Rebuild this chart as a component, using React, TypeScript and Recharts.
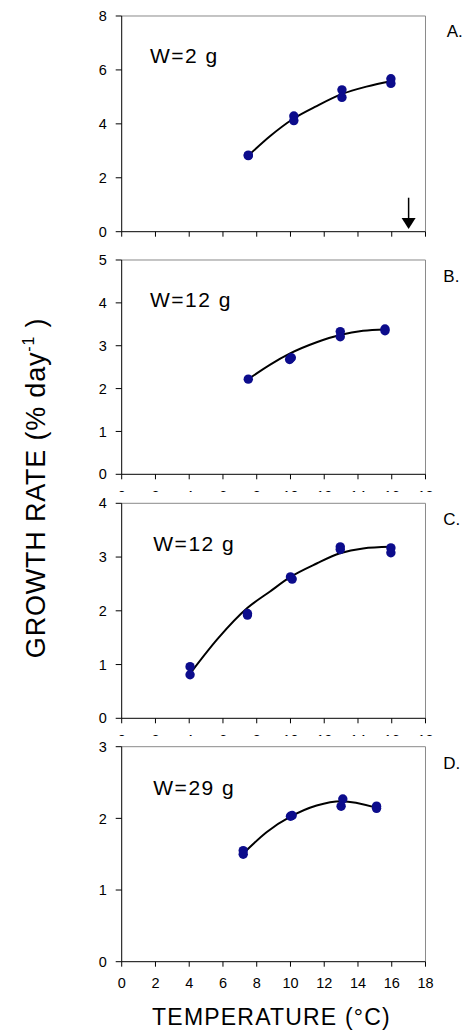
import React from 'react';
import { ComposedChart, Scatter, Line, XAxis, YAxis, ReferenceLine, ReferenceDot } from 'recharts';

const FONT = "'Liberation Sans', Arial, Helvetica, sans-serif";
const DOT_COLOR = '#0c0c8c';
const FRAME_COLOR = '#8a8a8a';

const xTicks = [0, 2, 4, 6, 8, 10, 12, 14, 16, 18];

// Panel A (W=2 g)
const yTicksA = [0, 2, 4, 6, 8];
const obsTempA = [7.5, 7.5, 10.2, 10.2, 13.05, 13.05, 15.95, 15.95];
const obsRateA = [2.82, 2.84, 4.29, 4.12, 5.26, 4.98, 5.67, 5.5];
const fitTempA = [7.55, 8.8, 10.17, 11.55, 13.03, 14.5, 16.05];
const fitRateA = [2.85, 3.55, 4.19, 4.66, 5.1, 5.38, 5.59];

// Panel B (W=12 g)
const yTicksB = [0, 1, 2, 3, 4, 5];
const obsTempB = [7.5, 9.95, 10.05, 12.95, 12.95, 15.6, 15.6];
const obsRateB = [2.22, 2.68, 2.72, 3.33, 3.21, 3.39, 3.35];
const fitTempB = [7.5, 8.8, 9.98, 11.55, 12.93, 14.3, 15.6];
const fitRateB = [2.22, 2.56, 2.82, 3.08, 3.25, 3.35, 3.38];

// Panel C (W=12 g)
const yTicksC = [0, 1, 2, 3, 4];
const obsTempC = [4.05, 4.05, 7.45, 7.45, 10.0, 10.1, 12.95, 12.95, 15.95, 15.95];
const obsRateC = [0.96, 0.81, 1.95, 1.92, 2.63, 2.59, 3.19, 3.14, 3.17, 3.08];
const fitTempC = [4.1, 5.72, 7.44, 8.79, 10.0, 11.55, 12.93, 14.3, 15.9];
const fitRateC = [0.85, 1.49, 2.05, 2.36, 2.63, 2.88, 3.07, 3.16, 3.19];

// Panel D (W=29 g)
const yTicksD = [0, 1, 2, 3];
const obsTempD = [7.2, 7.2, 10.0, 10.1, 13.1, 13.0, 15.1, 15.1];
const obsRateD = [1.55, 1.5, 2.03, 2.04, 2.27, 2.17, 2.17, 2.14];
const fitTempD = [7.25, 8.6, 10.05, 11.55, 13.03, 15.07];
const fitRateD = [1.52, 1.81, 2.03, 2.18, 2.24, 2.15];

const zip = (xs: number[], ys: number[]) => xs.map((x, i) => ({ x, y: ys[i] }));

const PLOT_LEFT = 121.7;
const PLOT_RIGHT = 425.5;
const CHART_W = 473;

type PanelProps = {
  divTop: number;
  plotTop: number;
  plotBottom: number;
  clipBottom: number;
  yMax: number;
  yTicks: number[];
  obs: { x: number; y: number }[];
  fit: { x: number; y: number }[];
  arrow?: boolean;
  xLabels?: boolean;
};

const dotShape = (p: any) => <circle cx={p.cx} cy={p.cy} r={4.7} fill={DOT_COLOR} />;

const arrowHead = (p: any) => (
  <polygon
    points={`${p.cx - 7},${p.cy - 11} ${p.cx + 7},${p.cy - 11} ${p.cx},${p.cy}`}
    fill="#000"
  />
);

const emptyTick = () => <g />;

function Panel({ divTop, plotTop, plotBottom, clipBottom, yMax, yTicks, obs, fit, arrow, xLabels = true }: PanelProps) {
  const xAxisH = 40;
  const chartH = plotBottom - divTop + xAxisH;
  return (
    <div
      style={{
        position: 'absolute',
        left: 0,
        top: divTop,
        width: CHART_W,
        height: clipBottom - divTop,
        overflow: 'hidden',
      }}
    >
      <ComposedChart
        width={CHART_W}
        height={chartH}
        margin={{ top: plotTop - divTop, right: CHART_W - PLOT_RIGHT, bottom: 0, left: 0 }}
      >
        <XAxis
          type="number"
          dataKey="x"
          domain={[0, 18]}
          ticks={xTicks}
          interval={0}
          height={xAxisH}
          tickSize={5}
          tickMargin={11.5}
          axisLine={{ stroke: '#000', strokeWidth: 1 }}
          tickLine={{ stroke: '#000', strokeWidth: 1 }}
          tick={xLabels ? { fill: '#000', fontSize: 14.5, fontFamily: FONT } : emptyTick}
          allowDataOverflow
        />
        <YAxis
          type="number"
          dataKey="y"
          domain={[0, yMax]}
          ticks={yTicks}
          interval={0}
          width={PLOT_LEFT}
          tickSize={6}
          tickMargin={9}
          axisLine={{ stroke: '#000', strokeWidth: 1 }}
          tickLine={{ stroke: '#000', strokeWidth: 1 }}
          tick={{ fill: '#000', fontSize: 14.5, fontFamily: FONT }}
          allowDataOverflow
        />
        <ReferenceLine y={yMax} stroke={FRAME_COLOR} strokeWidth={1} />
        <ReferenceLine x={18} stroke={FRAME_COLOR} strokeWidth={1} />
        <Scatter data={obs} shape={dotShape} isAnimationActive={false} />
        <Line
          data={fit}
          dataKey="y"
          type="monotone"
          stroke="#000"
          strokeWidth={2}
          dot={false}
          activeDot={false}
          isAnimationActive={false}
        />
        {arrow && (
          <ReferenceLine
            segment={[
              { x: 17, y: 1.26 },
              { x: 17, y: 0.45 },
            ]}
            stroke="#000"
            strokeWidth={1.5}
          />
        )}
        {arrow && <ReferenceDot x={17} y={0.1} r={0} shape={arrowHead} />}
      </ComposedChart>
    </div>
  );
}

export default function App() {
  return (
    <div style={{ position: 'absolute', left: 0, top: 0, width: 473, height: 1036, background: '#fff' }}>
      <Panel
        divTop={0}
        plotTop={16}
        plotBottom={231.7}
        clipBottom={240}
        yMax={8}
        yTicks={yTicksA}
        obs={zip(obsTempA, obsRateA)}
        fit={zip(fitTempA, fitRateA)}
        arrow
        xLabels={false}
      />
      <Panel
        divTop={250}
        plotTop={260}
        plotBottom={474.3}
        clipBottom={492}
        yMax={5}
        yTicks={yTicksB}
        obs={zip(obsTempB, obsRateB)}
        fit={zip(fitTempB, fitRateB)}
      />
      <Panel
        divTop={495}
        plotTop={503.3}
        plotBottom={718.3}
        clipBottom={736}
        yMax={4}
        yTicks={yTicksC}
        obs={zip(obsTempC, obsRateC)}
        fit={zip(fitTempC, fitRateC)}
      />
      <Panel
        divTop={737}
        plotTop={746.7}
        plotBottom={961.7}
        clipBottom={1000}
        yMax={3}
        yTicks={yTicksD}
        obs={zip(obsTempD, obsRateD)}
        fit={zip(fitTempD, fitRateD)}
      />
      <svg
        width={473}
        height={1036}
        style={{ position: 'absolute', left: 0, top: 0, pointerEvents: 'none' }}
        fontFamily={FONT}
      >
        <text x={150} y={62.7} fontSize={21} letterSpacing={1.5} fill="#000">W=2 g</text>
        <text x={150} y={306.7} fontSize={21} letterSpacing={1.5} fill="#000">W=12 g</text>
        <text x={153.3} y={551} fontSize={21} letterSpacing={1.5} fill="#000">W=12 g</text>
        <text x={153.3} y={795} fontSize={21} letterSpacing={1.5} fill="#000">W=29 g</text>

        <text x={446.7} y={37.3} fontSize={17} fill="#000">A.</text>
        <text x={443.3} y={281.7} fontSize={17} fill="#000">B.</text>
        <text x={443.3} y={525} fontSize={17} fill="#000">C.</text>
        <text x={443.3} y={769.3} fontSize={17} fill="#000">D.</text>

        <text x={271.5} y={1025} fontSize={23} letterSpacing={1.2} textAnchor="middle" fill="#000">
          TEMPERATURE (°C)
        </text>
        <text
          transform="translate(45,488) rotate(-90)"
          fontSize={27}
          letterSpacing={0.8}
          textAnchor="middle"
          fill="#000"
        >
          GROWTH RATE (% day
          <tspan fontSize={16} dy={-11}>-1</tspan>
          <tspan dy={11}> )</tspan>
        </text>
      </svg>
    </div>
  );
}
